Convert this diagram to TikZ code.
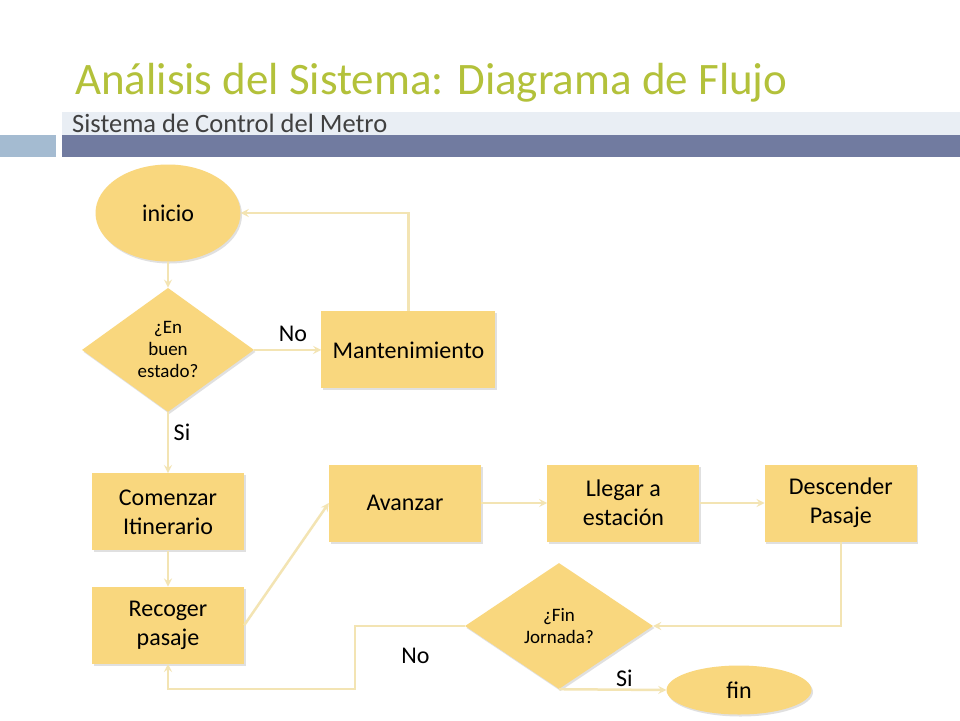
\documentclass[tikz,border=0pt]{standalone}
\usepackage{fontspec}
\setmainfont{Carlito}
\usepackage{tikz}
\usetikzlibrary{shapes.geometric, arrows, shadows, positioning}
\definecolor{flowfill}{HTML}{F9D77E}
\definecolor{flowline}{HTML}{F3E4B3}
\definecolor{titlegreen}{HTML}{B3C13A}
\definecolor{bandlight}{HTML}{E9EEF4}
\definecolor{banddark}{HTML}{717BA0}
\definecolor{bandblue}{HTML}{A4BBD1}
\tikzstyle{shade} = [drop shadow={shadow xshift=1.5pt, shadow yshift=-2pt, fill=black!40, opacity=0.3}]
\tikzstyle{startstop} = [ellipse, fill=flowfill, shade, minimum width=145pt, minimum height=97pt, inner sep=0pt, font=\fontsize{24}{29}\selectfont]
\tikzstyle{decision} = [diamond, fill=flowfill, shade, minimum width=172pt, minimum height=124pt, inner sep=0pt, align=center, font=\fontsize{19}{22}\selectfont]
\tikzstyle{process} = [rectangle, fill=flowfill, shade, minimum width=152pt, minimum height=77pt, inner sep=0pt, align=center, font=\fontsize{24}{29}\selectfont]
\tikzstyle{arrow} = [line width=2.5pt, draw=flowline, ->, >=stealth]
\tikzstyle{lbl} = [font=\fontsize{24}{28}\selectfont]

\begin{document}
\begin{tikzpicture}[x=1pt, y=-1pt, node distance = 26pt]
	\useasboundingbox[fill=white] (0,0) rectangle (960,720);
	
	% header
	\fill[bandlight] (62,112) rectangle (960,135);
	\fill[banddark] (62,135) rectangle (960,157);
	\fill[bandblue] (0,135) rectangle (56,157);
	\node (Title) [anchor=base west, inner sep=0pt, text=titlegreen, font=\fontsize{45}{50}\selectfont] at (75,94) {Análisis del Sistema: Diagrama de Flujo};
	\node (Subtitle) [anchor=base west, inner sep=0pt, text=black!75, font=\fontsize{26.5}{30}\selectfont] at (72,132) {Sistema de Control del Metro};
	
	% nodes
	\node (Inicio) [startstop] at (168,213) {inicio};
	\node (BuenEstado) [decision, below = of Inicio] {¿En\\buen\\estado?};
	\node (Mantenimiento) [process, minimum width=174pt, right = 67pt of BuenEstado] {Mantenimiento};
	\node (Comenzar) [process, below = 61pt of BuenEstado] {Comenzar\\Itinerario};
	\node (Recoger) [process, below = 36pt of Comenzar] {Recoger\\pasaje};
	\node (Avanzar) [process] at (405,503) {Avanzar};
	\node (Llegar) [process, right = 66pt of Avanzar] {Llegar a\\estación};
	\node (Descender) [process, right = 65pt of Llegar] {Descender\\Pasaje};
	\node (FinJornada) [decision, minimum width=188pt, minimum height=126pt] at (559,626) {¿Fin\\Jornada?};
	\node (Fin) [startstop, minimum height=49pt] at (739,690) {fin};
	\coordinate (NoCorner) at (355,689);
	
	% connectors
	\draw [arrow] (Inicio) -- (BuenEstado);
	\draw [arrow] (BuenEstado) -- node[lbl, pos=0.58, yshift=16pt]{No} (Mantenimiento);
	\draw [arrow] (Mantenimiento.north) |- (Inicio.east);
	\draw [arrow] (BuenEstado) -- node[lbl, pos=0.33, xshift=14pt]{Si} (Comenzar);
	\draw [arrow] (Comenzar) -- (Recoger);
	\draw [arrow] (Recoger.east) -- (Avanzar.west);
	\draw [arrow] (Avanzar) -- (Llegar);
	\draw [arrow] (Llegar) -- (Descender);
	\draw [arrow] (Descender.south) |- (FinJornada.east);
	\draw [arrow] (FinJornada.west) -- node[lbl, pos=0.45, yshift=-30pt]{No} (FinJornada.west -| NoCorner) -- (NoCorner) -| (Recoger.south);
	\draw [arrow] (FinJornada.south) -- node[lbl, pos=0.61, yshift=11pt]{Si} (Fin.west);
\end{tikzpicture}
\end{document}
